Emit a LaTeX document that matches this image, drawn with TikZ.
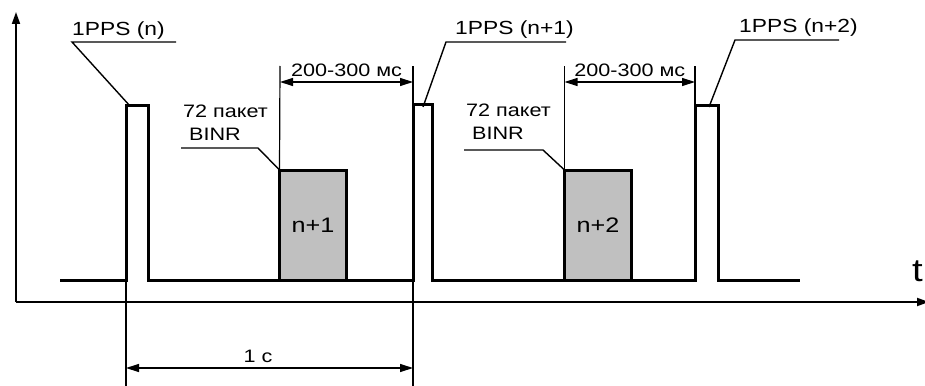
\documentclass[tikz,border=0pt]{standalone}
\usepackage{fontspec}
\setmainfont{Liberation Sans}[FakeStretch=1.2]
\usetikzlibrary{arrows.meta}
\definecolor{pktgray}{RGB}{192,192,192}

\begin{document}
\begin{tikzpicture}[x=1pt,y=-1pt,
        signal/.style={line width=3pt,line join=miter},
        axis/.style={line width=1.8pt,-{Triangle[length=12pt,width=8pt]}},
        dimline/.style={line width=1.2pt},
        dimarrow/.style={line width=1.2pt,{Triangle[length=13pt,width=8pt]}-{Triangle[length=13pt,width=8pt]}},
        leader/.style={line width=1.4pt},
        packet/.style={draw,line width=3pt,fill=pktgray,minimum width=67pt,minimum height=110pt,
            inner sep=0pt,outer sep=0pt,font=\fontsize{21}{24}\selectfont},
        lbl/.style={inner sep=0pt,font=\fontsize{18}{23}\selectfont},
        ppslbl/.style={lbl,font=\fontsize{19}{23}\selectfont}]
        \useasboundingbox (0,0) rectangle (925,385);

        % osy
        \coordinate (O) at (16,302);
        \draw[axis] (O) -- (16,12) coordinate (ytop);
        \draw[axis] (O) -- (929,302) coordinate (xend);
        \node[anchor=base west,inner sep=0pt,font=\fontsize{32}{32}\selectfont] (tlbl) at (912,281) {t};

        % pakety
        \node[packet] (pk1) at (313,225) {n+1};
        \node[packet] (pk2) at (598,225) {n+2};

        % signal
        \draw[signal] (60,280) -- (126,280) coordinate (p1bl)
        -- (126,106) coordinate (p1tl) -- (148,106) coordinate (p1tr)
        -- (148,280) -- (pk1.south west);
        \draw[signal] (pk1.south east) -- (413,280) coordinate (p2bl)
        -- (413,105) coordinate (p2tl) -- (432,105) coordinate (p2tr)
        -- (432,280) -- (pk2.south west);
        \draw[signal] (pk2.south east) -- (695,280) coordinate (p3bl)
        -- (695,106) coordinate (p3tl) -- (718,106) coordinate (p3tr)
        -- (718,280) -- (800,280);

        % 200-300 ms
        \draw[dimline] (pk1.north west) -- (280,66) coordinate (d1a);
        \draw[dimline] (p2tl) -- (413,66) coordinate (d1b);
        \draw[dimarrow] (280,82) -- node[lbl,above=5pt] (dtA) {200-300 мс} (413,82);

        \draw[dimline] (pk2.north west) -- (564.5,66) coordinate (d2a);
        \draw[dimline] (p3tl) -- (695,66) coordinate (d2b);
        \draw[dimarrow] (564.5,82) -- node[lbl,above=5pt] (dtB) {200-300 мс} (695,82);

        % 1 s
        \draw[dimline] (p1bl) -- (126,386) coordinate (s1a);
        \draw[dimline] (p2bl) -- (413,386) coordinate (s1b);
        \draw[dimarrow] (126,368) -- node[lbl,above=5pt,pos=0.46] (tsec) {1 с} (413,368);

        % popisky 1PPS
        \node[ppslbl,anchor=west] (ppsA) at (72,31) {1PPS (n)};
        \draw[leader] (176,42) coordinate (lA) -- (72,42) -- (130,106) coordinate (lAe);
        \node[ppslbl,anchor=west] (ppsB) at (455,30) {1PPS (n+1)};
        \draw[leader] (566,42) coordinate (lB) -- (446,42) -- (423,107) coordinate (lBe);
        \node[ppslbl,anchor=west] (ppsC) at (739,28) {1PPS (n+2)};
        \draw[leader] (839,40) coordinate (lC) -- (735,40) -- (709,107) coordinate (lCe);

        % popisky BINR
        \node[lbl,anchor=north west,align=left] (binrA) at (183,105) {72 пакет\\\hspace*{6pt}BINR};
        \draw[leader] (181,148) coordinate (lD) -- (258,148) -- (pk1.north west);
        \node[lbl,anchor=north west,align=left] (binrB) at (466,104) {72 пакет\\\hspace*{6pt}BINR};
        \draw[leader] (464,150) coordinate (lE) -- (543,150) -- (pk2.north west);
    \end{tikzpicture}
\end{document}
